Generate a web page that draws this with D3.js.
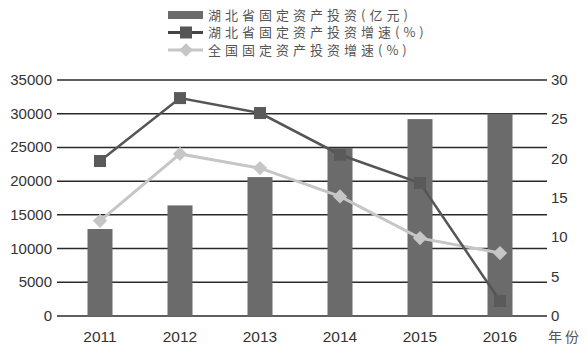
<!DOCTYPE html>
<html>
<head>
<meta charset="utf-8">
<script src="https://cdn.jsdelivr.net/npm/d3@7"></script>
<style>
  body { margin: 0; background: #fff; }
  text { font-family: "Liberation Sans", Arial, sans-serif; }
  .cjk { font-family: "Noto Sans CJK SC", sans-serif; }
</style>
</head>
<body>
<div id="container"></div>
<script>
// data
var years = ["2011", "2012", "2013", "2014", "2015", "2016"];
var hubeiInvest = [12900, 16400, 20600, 24900, 29200, 30000];   // 亿元
var hubeiGrowth = [19.7, 27.7, 25.8, 20.5, 16.9, 1.9];          // %
var chinaGrowth = [12.1, 20.6, 18.8, 15.2, 9.9, 8.0];           // %
var leftTicks = [0, 5000, 10000, 15000, 20000, 25000, 30000, 35000];
var rightTicks = [0, 5, 10, 15, 20, 25, 30];
var legendNames = ["湖北省固定资产投资(亿元)", "湖北省固定资产投资增速(%)", "全国固定资产投资增速(%)"];

var width = 588, height = 351;
var plotLeft = 57, plotRight = 547, plotTop = 80, plotBottom = 316;

var svg = d3.select("#container").append("svg")
    .attr("width", width)
    .attr("height", height);

var x = d3.scaleBand().domain(years).range([60, 540]);
var yL = d3.scaleLinear().domain([0, 35000]).range([plotBottom, plotTop]);
var yR = d3.scaleLinear().domain([0, 30]).range([plotBottom, plotTop]);

// gridlines
svg.append("g")
  .selectAll("line")
  .data(leftTicks)
  .enter().append("line")
    .attr("x1", plotLeft).attr("x2", plotRight)
    .attr("y1", d => yL(d)).attr("y2", d => yL(d))
    .style("stroke", "#2a2a2a")
    .style("stroke-width", 1.5);

// left axis labels
svg.append("g")
  .selectAll("text")
  .data(leftTicks)
  .enter().append("text")
    .attr("x", 52)
    .attr("y", d => yL(d) + 5)
    .attr("text-anchor", "end")
    .style("font-size", "15px")
    .style("fill", "#333")
    .text(d => d);

// right axis labels
svg.append("g")
  .selectAll("text")
  .data(rightTicks)
  .enter().append("text")
    .attr("x", 551)
    .attr("y", d => yR(d) + 5)
    .style("font-size", "15px")
    .style("fill", "#333")
    .text(d => d);

// x labels
svg.append("g")
  .selectAll("text")
  .data(years)
  .enter().append("text")
    .attr("x", d => x(d) + x.bandwidth() / 2)
    .attr("y", 342)
    .attr("text-anchor", "middle")
    .style("font-size", "15.5px")
    .style("fill", "#333")
    .text(d => d);

svg.append("text")
    .attr("class", "cjk")
    .attr("x", 548).attr("y", 342)
    .style("font-size", "14px")
    .style("letter-spacing", "3px")
    .style("fill", "#555")
    .text("年份");

// bars
var barW = 25;
svg.append("g")
  .selectAll("rect")
  .data(hubeiInvest)
  .enter().append("rect")
    .attr("x", (d, i) => x(years[i]) + x.bandwidth() / 2 - barW / 2)
    .attr("width", barW)
    .attr("y", d => yL(d))
    .attr("height", d => plotBottom - yL(d))
    .style("fill", "#6b6b6b");

var cx = (d, i) => x(years[i]) + x.bandwidth() / 2;

// national growth line
var line = d3.line().x(cx).y(d => yR(d));
svg.append("path")
    .attr("d", line(chinaGrowth))
    .style("fill", "none")
    .style("stroke", "#c6c6c6")
    .style("stroke-width", 3);

svg.append("g")
  .selectAll("path")
  .data(chinaGrowth)
  .enter().append("path")
    .attr("d", d3.symbol().type(d3.symbolDiamond2).size(130))
    .attr("transform", (d, i) => "translate(" + cx(d, i) + "," + yR(d) + ")")
    .style("fill", "#c6c6c6");

// hubei growth line
svg.append("path")
    .attr("d", line(hubeiGrowth))
    .style("fill", "none")
    .style("stroke", "#555")
    .style("stroke-width", 2.5);

svg.append("g")
  .selectAll("rect")
  .data(hubeiGrowth)
  .enter().append("rect")
    .attr("x", (d, i) => cx(d, i) - 6)
    .attr("y", d => yR(d) - 6)
    .attr("width", 12).attr("height", 12)
    .style("fill", "#5a5a5a");

// legend
var lg = svg.append("g");
var rows = [15, 32.5, 50];
lg.append("rect")
    .attr("x", 168).attr("y", rows[0] - 4)
    .attr("width", 35).attr("height", 8)
    .style("fill", "#6b6b6b");
lg.append("line")
    .attr("x1", 168).attr("x2", 203)
    .attr("y1", rows[1]).attr("y2", rows[1])
    .style("stroke", "#444").style("stroke-width", 3);
lg.append("rect")
    .attr("x", 180).attr("y", rows[1] - 6)
    .attr("width", 12).attr("height", 12)
    .style("fill", "#555");
lg.append("line")
    .attr("x1", 168).attr("x2", 203)
    .attr("y1", rows[2]).attr("y2", rows[2])
    .style("stroke", "#c6c6c6").style("stroke-width", 3);
lg.append("path")
    .attr("d", d3.symbol().type(d3.symbolDiamond2).size(120))
    .attr("transform", "translate(186," + rows[2] + ")")
    .style("fill", "#c6c6c6");

lg.selectAll("text")
  .data(legendNames)
  .enter().append("text")
    .attr("class", "cjk")
    .attr("x", 208)
    .attr("y", (d, i) => rows[i] + 4.5)
    .style("font-size", "13px")
    .style("letter-spacing", "4px")
    .style("fill", "#555")
    .text(d => d);
</script>
</body>
</html>
